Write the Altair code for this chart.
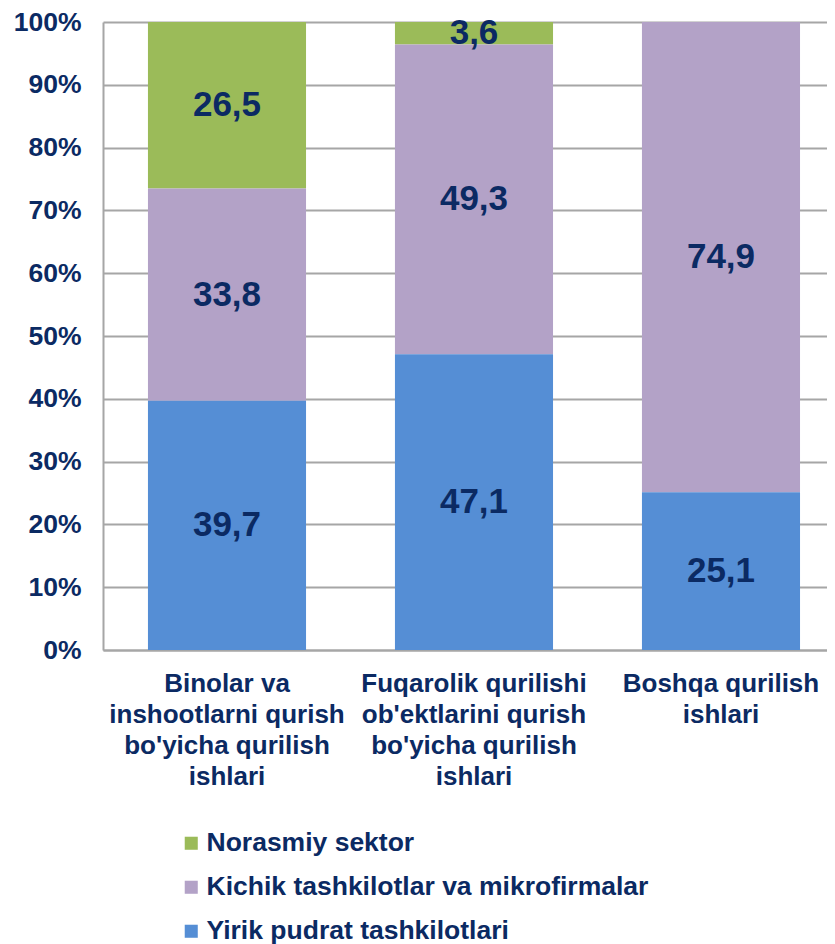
import altair as alt
import pandas as pd

categories = [
    "Binolar va\ninshootlarni qurish\nbo'yicha qurilish\nishlari",
    "Fuqarolik qurilishi\nob'ektlarini qurish\nbo'yicha qurilish\nishlari",
    "Boshqa qurilish\nishlari",
]
series = ["Norasmiy sektor", "Kichik tashkilotlar va mikrofirmalar", "Yirik pudrat tashkilotlari"]
norasmiy = [26.5, 3.6, 0.0]
kichik = [33.8, 49.3, 74.9]
yirik = [39.7, 47.1, 25.1]
stack_rank = {"Yirik pudrat tashkilotlari": 0, "Kichik tashkilotlar va mikrofirmalar": 1, "Norasmiy sektor": 2}
colors = ["#9BBB59", "#B3A2C7", "#558ED5"]
navy = "#0B2A63"
font = "Liberation Sans"

rows = []
for i, c in enumerate(categories):
    for s, vals in zip(series, [norasmiy, kichik, yirik]):
        rows.append({"cat": c, "series": s, "value": vals[i], "rank": stack_rank[s]})
df = pd.DataFrame(rows)

x = alt.X("cat:N", sort=categories, title=None,
          scale=alt.Scale(paddingInner=0.36, paddingOuter=0.1456, align=0.625),
          axis=alt.Axis(labelAngle=0, labelExpr="split(datum.label, '\\n')", labelLineHeight=31,
                        labelFont=font, labelFontSize=26, labelFontWeight="bold", labelColor=navy,
                        labelPadding=20, labelLimit=400, ticks=False, domainColor="#A6A6A6",
                        domainWidth=2, grid=False))

bars = alt.Chart(df).mark_bar().encode(
    x=x,
    y=alt.Y("value:Q", stack="zero", title=None,
            scale=alt.Scale(domain=[0, 100], nice=False),
            axis=alt.Axis(values=list(range(0, 101, 10)), labelExpr="datum.value + '%'",
                          labelFont=font, labelFontSize=26.5, labelFontWeight="bold", labelColor=navy,
                          labelPadding=22, ticks=False, domainColor="#A6A6A6", domainWidth=2,
                          gridColor="#A6A6A6", gridWidth=2)),
    color=alt.Color("series:N", scale=alt.Scale(domain=series, range=colors),
                    legend=alt.Legend(title=None, orient="none", legendX=75, legendY=808,
                                      direction="vertical", symbolType="square", symbolSize=170,
                                      symbolStrokeWidth=0, labelFont=font, labelFontSize=26.5,
                                      labelFontWeight="bold", labelColor=navy, rowPadding=17,
                                      labelOffset=2, labelLimit=600)),
    order=alt.Order("rank:Q", sort="ascending"),
)

labels = alt.Chart(df).transform_filter("datum.value > 0").transform_stack(
    stack="value", groupby=["cat"], as_=["y0", "y1"], sort=[alt.SortField("rank", order="ascending")]
).transform_calculate(
    mid="(datum.y0 + datum.y1) / 2",
    txt="replace(format(datum.value, '.1f'), '.', ',')",
).mark_text(font=font, fontSize=35, fontWeight="bold", color=navy, baseline="middle").encode(
    x=alt.X("cat:N", sort=categories),
    y=alt.Y("mid:Q"),
    text="txt:N",
)

chart = alt.layer(bars, labels).properties(
    width=724, height=628,
    autosize=alt.AutoSizeParams(type="none"),
    padding={"left": 95, "top": 14, "right": 0, "bottom": 294},
).configure_view(stroke=None).configure_axis(gridCap="butt")

chart.save("out.html", embed_options={"renderer": "svg", "actions": False})
